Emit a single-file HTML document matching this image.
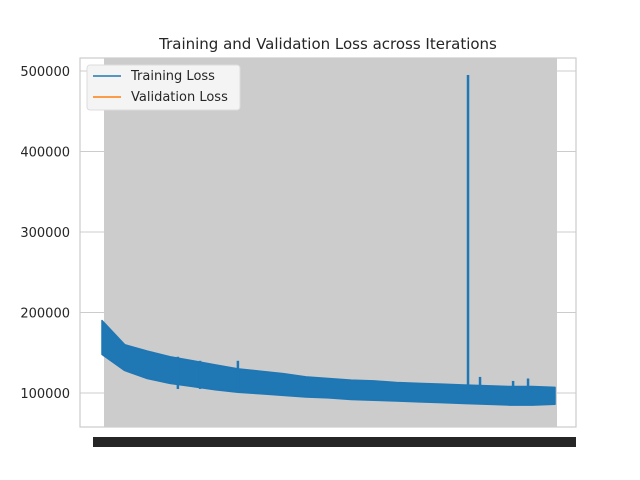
<!DOCTYPE html>
<html><head><meta charset="utf-8"><style>body{margin:0;background:#fff}svg{display:block;font-family:"DejaVu Sans","Liberation Sans",sans-serif}</style></head>
<body>
<svg id="c" width="640" height="480">
<text x="328" y="49" text-anchor="middle" font-size="15" fill="#262626">Training and Validation Loss across Iterations</text>
</svg>
<script>
const iterations=[0,100,200,300,400,500,600,700,800,900,1000,1100,1200,1300,1400,1500,1600,1700,1800,1900,2000];
const trainHigh=[190,160,152,145,140,135,130,127,124,120,118,116,115,113,112,111,110,109,108,108,107];
const trainLow=[148,128,118,112,108,104,101,99,97,95,94,92,91,90,89,88,87,86,85,85,86];
const spikeIters=[335,433,600,1616,1669,1815,1881];
const spikeVals=[145,140,140,495,120,115,118];
const yTicks=[100000,200000,300000,400000,500000];
const NS='http://www.w3.org/2000/svg';
const svg=document.getElementById('c');
const L=80,R=576,T=58,B=427;
const xs=i=>102+i/2000*453;
const ys=v=>393-(v-100000)*322/400000;
function mk(t,a){const e=document.createElementNS(NS,t);for(const k in a)e.setAttribute(k,a[k]);svg.appendChild(e);return e;}
let g=mk('rect',{x:104,y:T,width:453,height:B-T,fill:'#cccccc'});


yTicks.forEach(v=>{
 const l=mk('line',{x1:L,x2:R,y1:ys(v),y2:ys(v),stroke:'#cccccc','stroke-width':1});
 
 
 const t=mk('text',{x:L-10,y:ys(v)+5,'text-anchor':'end','font-size':'13',fill:'#262626'});
 t.textContent=v;
 
 
});
const fr=mk('rect',{x:L,y:T,width:R-L,height:B-T,fill:'none',stroke:'#cccccc','stroke-width':1.2});


const xb=mk('rect',{x:93,y:437,width:483,height:10,fill:'#262626'});


let pts=iterations.map((it,k)=>xs(it)+','+ys(trainHigh[k]*1000));
for(let k=iterations.length-1;k>=0;k--)pts.push(xs(iterations[k])+','+ys(trainLow[k]*1000));
const band=mk('polygon',{points:pts.join(' '),fill:'#1f77b4',stroke:'#1f77b4','stroke-width':1.5,'stroke-linejoin':'round'});


spikeIters.forEach((it,k)=>{
 const s=mk('line',{x1:xs(it),x2:xs(it),y1:ys(105000),y2:ys(spikeVals[k]*1000),stroke:'#1f77b4','stroke-width':2.5});
 
 
});
const lg=mk('rect',{x:87,y:65,width:153,height:45,fill:'#f4f4f4',stroke:'#dddddd',rx:3});


[['Training Loss','#1f77b4',77],['Validation Loss','#ff7f0e',98]].forEach(([n,c,y])=>{
 const l=mk('line',{x1:93,x2:121,y1:y-1,y2:y-1,stroke:c,'stroke-width':1.5});
 
 
 const t=mk('text',{x:131,y:y+3,'font-size':'13',fill:'#262626'});
 t.textContent=n;
 
 
});
</script>
</body></html>
